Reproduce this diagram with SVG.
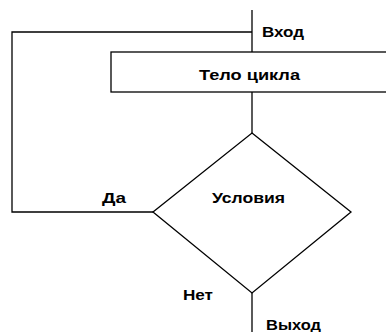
<svg xmlns="http://www.w3.org/2000/svg" width="386" height="332" viewBox="0 0 386 332">
<style>
.ln{fill:none;stroke:#000;stroke-width:1.3}
.sh{fill:#fff;stroke:#000;stroke-width:1.3}
.t{font-family:"Liberation Sans",Arial,sans-serif;font-weight:bold;font-size:15px;fill:#000}
</style>
<rect width="386" height="332" fill="#fff"/>
<g id="connectors">
<path class="ln" d="M252 10 V52"/>
<path class="ln" d="M252 32 H12 V212 H153"/>
<path class="ln" d="M252 92 V133"/>
<path class="ln" d="M252 293 V332"/>
</g>
<g id="body">
<rect class="sh" x="111" y="52" width="280" height="40"/>
<text class="t" x="199" y="80" textLength="101" lengthAdjust="spacingAndGlyphs">Тело цикла</text>
</g>
<g id="cond">
<polygon class="sh" points="252,133 351,212 252,293 153,212"/>
<text class="t" x="212" y="203" textLength="73" lengthAdjust="spacingAndGlyphs">Условия</text>
</g>
<g id="labels">
<text class="t" x="262" y="37" textLength="42" lengthAdjust="spacingAndGlyphs">Вход</text>
<text class="t" x="102" y="203" textLength="24" lengthAdjust="spacingAndGlyphs">Да</text>
<text class="t" x="183" y="300" textLength="30" lengthAdjust="spacingAndGlyphs">Нет</text>
<text class="t" x="266" y="330" textLength="55" lengthAdjust="spacingAndGlyphs">Выход</text>
</g>
</svg>
